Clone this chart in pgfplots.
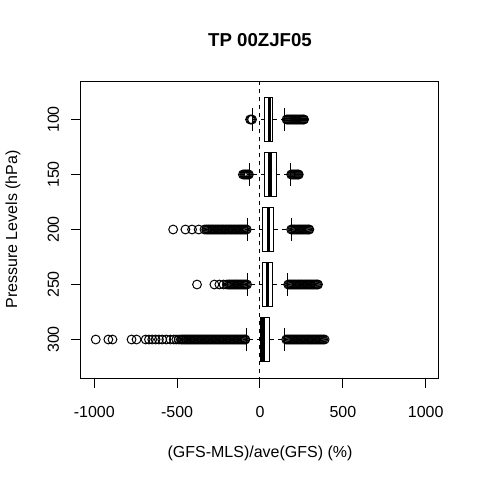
\documentclass[border=0pt]{standalone}
\usepackage{fontspec}
\setmainfont{Liberation Sans}
\usepackage{pgfplots}
\pgfplotsset{compat=1.18}
\usepgfplotslibrary{statistics}
\pgfplotsset{
  boxplot/every median/.style={line width=2.4pt},
  boxplot/every whisker/.style={dash pattern=on 3pt off 3pt},
}
\begin{document}
\begin{tikzpicture}[x=1pt,y=1pt]
\useasboundingbox (0,0) rectangle (360,360);
\begin{axis}[
  at={(60.75pt,76.5pt)}, anchor=south west,
  width=268.5pt, height=222.75pt, scale only axis,
  xmin=-1080, xmax=1080, ymin=0.3, ymax=5.7, y dir=reverse,
  xtick={-1000,-500,0,500,1000}, xticklabels={-1000,-500,0,500,1000},
  ytick={1,2,3,4,5}, yticklabels={100,150,200,250,300},
  tick align=outside, xtick pos=bottom, ytick pos=left,
  major tick length=7.5pt,
  tick style={black, line width=0.75pt},
  axis line style={line width=0.75pt},
  ticklabel style={font=\fontsize{12}{14}\selectfont},
  xticklabel style={anchor=north},
  xticklabel shift=10.5pt,
  yticklabel style={rotate=90, anchor=base},
  yticklabel shift=9pt,
  title={TP 00ZJF05},
  title style={at={(axis description cs:0.5,1.111)}, anchor=center, font=\fontsize{14}{16}\selectfont\bfseries},
  xlabel={(GFS-MLS)/ave(GFS) (\%)},
  xlabel style={at={(axis description cs:0.5,-0.255)}, anchor=center, font=\fontsize{12}{14}\selectfont},
  ylabel={Pressure Levels (hPa)},
  ylabel style={at={(axis description cs:-0.19,0.5)}, anchor=center, font=\fontsize{12}{14}\selectfont},
]
% boxes
\addplot[black, line width=0.75pt, fill=white, boxplot prepared={draw position=1, lower whisker=-44, lower quartile=29, median=55, upper quartile=78, upper whisker=149, box extend=0.8, whisker extend=0}] coordinates {};
\addplot[black, line width=0.75pt, fill=white, boxplot prepared={draw position=2, lower whisker=-62, lower quartile=29, median=60, upper quartile=98, upper whisker=185, box extend=0.8, whisker extend=0}] coordinates {};
\addplot[black, line width=0.75pt, fill=white, boxplot prepared={draw position=3, lower whisker=-78, lower quartile=17, median=50, upper quartile=84, upper whisker=190, box extend=0.8, whisker extend=0}] coordinates {};
\addplot[black, line width=0.75pt, fill=white, boxplot prepared={draw position=4, lower whisker=-74, lower quartile=17, median=44, upper quartile=78, upper whisker=165, box extend=0.8, whisker extend=0}] coordinates {};
\addplot[black, line width=0.75pt, fill=white, boxplot prepared={draw position=5, lower whisker=-84, lower quartile=5, median=18, upper quartile=60, upper whisker=145, box extend=0.8, whisker extend=0}] coordinates {};
% whisker caps
\addplot[only marks, mark=|, mark size=8.5pt, mark options={black, solid, line width=0.75pt}] coordinates {
(-44,1)(149,1)(-62,2)(185,2)(-78,3)(190,3)(-74,4)(165,4)(-84,5)(145,5)};
% zero line
\addplot[black, line width=0.75pt, dash pattern=on 3pt off 3pt] coordinates {(0,0.3)(0,5.7)};
% outliers
\addplot[only marks, mark=o, mark size=3.3pt, mark options={black, solid, line width=0.75pt}] coordinates {
(-60,1)(-54,1)(-48,1)
(160,1)(166,1)(172,1)(178,1)(184,1)(190,1)(196,1)(202,1)(208,1)(214,1)(220,1)(226,1)(232,1)(238,1)(244,1)(250,1)(256,1)(262,1)(266,1)
(-103,2)(-96,2)(-90,2)(-84,2)(-78,2)(-72,2)(-67,2)
(188,2)(194,2)(200,2)(206,2)(212,2)(218,2)(224,2)(230,2)(234,2)
(-524,3)(-450,3)(-410,3)(-370,3)(-335,3)
(-325,3)(-318,3)(-311,3)(-304,3)(-297,3)(-290,3)(-283,3)(-276,3)(-269,3)(-262,3)(-255,3)(-248,3)(-241,3)(-234,3)(-227,3)(-220,3)(-213,3)(-206,3)(-199,3)(-192,3)(-185,3)(-178,3)(-171,3)(-164,3)(-157,3)(-150,3)(-143,3)(-136,3)(-129,3)(-122,3)(-115,3)(-108,3)(-101,3)(-94,3)(-87,3)(-80,3)
(188,3)(195,3)(202,3)(209,3)(216,3)(223,3)(230,3)(237,3)(244,3)(251,3)(258,3)(265,3)(272,3)(279,3)(286,3)(293,3)(298,3)
(-380,4)(-275,4)(-245,4)(-220,4)(-200,4)
(-190,4)(-183,4)(-176,4)(-169,4)(-162,4)(-155,4)(-148,4)(-141,4)(-134,4)(-127,4)(-120,4)(-113,4)(-106,4)(-99,4)(-92,4)(-85,4)(-78,4)
(170,4)(177,4)(184,4)(191,4)(198,4)(205,4)(212,4)(219,4)(226,4)(233,4)(240,4)(247,4)(254,4)(261,4)(268,4)(275,4)(282,4)(289,4)(296,4)(303,4)(310,4)(317,4)(324,4)(331,4)(338,4)(345,4)(350,4)
(-991,5)(-915,5)(-890,5)(-775,5)(-745,5)(-690,5)(-670,5)(-650,5)(-630,5)(-610,5)(-590,5)(-565,5)(-540,5)(-520,5)(-505,5)(-490,5)(-478,5)
(-470,5)(-463,5)(-456,5)(-449,5)(-442,5)(-435,5)(-428,5)(-421,5)(-414,5)(-407,5)(-400,5)(-393,5)(-386,5)(-379,5)(-372,5)(-365,5)(-358,5)(-351,5)(-344,5)(-337,5)(-330,5)(-323,5)(-316,5)(-309,5)(-302,5)(-295,5)(-288,5)(-281,5)(-274,5)(-267,5)(-260,5)(-253,5)(-246,5)(-239,5)(-232,5)(-225,5)(-218,5)(-211,5)(-204,5)(-197,5)(-190,5)(-183,5)(-176,5)(-169,5)(-162,5)(-155,5)(-148,5)(-141,5)(-134,5)(-127,5)(-120,5)(-113,5)(-106,5)(-99,5)(-92,5)(-88,5)
(158,5)(165,5)(172,5)(179,5)(186,5)(193,5)(200,5)(207,5)(214,5)(221,5)(228,5)(235,5)(242,5)(249,5)(256,5)(263,5)(270,5)(277,5)(284,5)(291,5)(298,5)(305,5)(312,5)(319,5)(326,5)(333,5)(340,5)(347,5)(354,5)(361,5)(368,5)(375,5)(382,5)(390,5)
};
\end{axis}
\end{tikzpicture}
\end{document}
